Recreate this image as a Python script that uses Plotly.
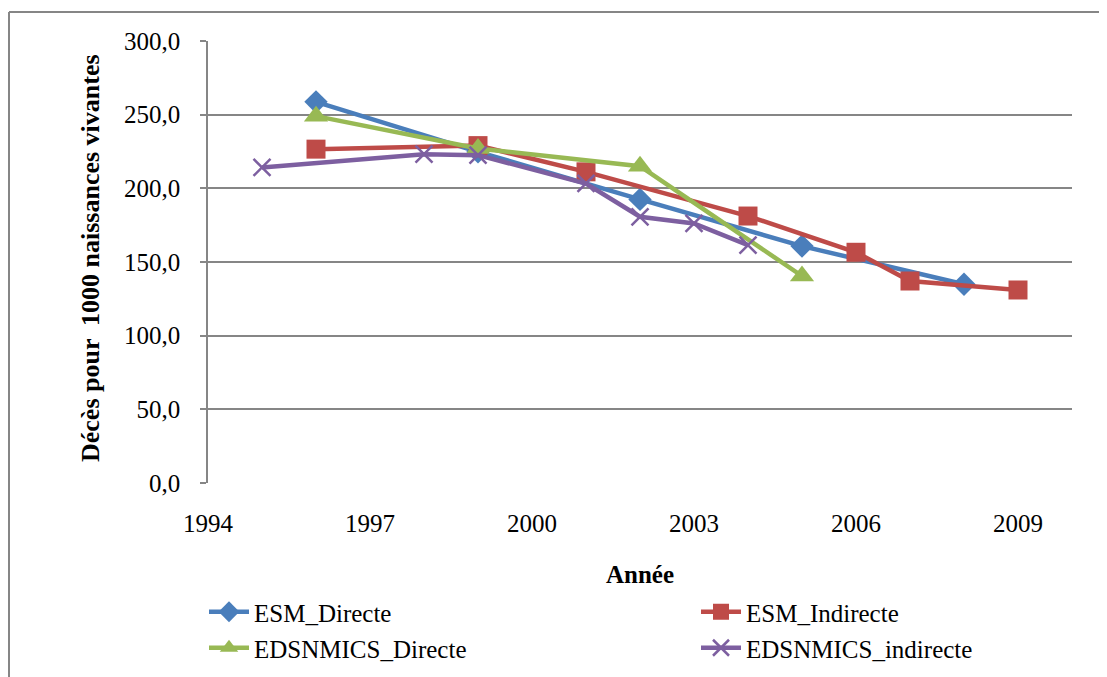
import plotly.graph_objects as go

# ---- data ----
esm_dir_years = [1996, 1999, 2002, 2005, 2008]
esm_dir_vals = [258.7, 224.8, 192.5, 160.8, 134.9]

esm_ind_years = [1996, 1999, 2001, 2004, 2006, 2007, 2009]
esm_ind_vals = [226.6, 229.0, 211.2, 181.2, 156.6, 137.1, 131.0]

eds_dir_years = [1996, 1999, 2002, 2005]
eds_dir_vals = [249.0, 227.0, 215.0, 140.5]

eds_ind_years = [1995, 1998, 1999, 2001, 2002, 2003, 2004]
eds_ind_vals = [214.2, 223.2, 222.5, 203.3, 180.7, 176.2, 161.5]

x_ticks = [1994, 1997, 2000, 2003, 2006, 2009]
y_ticks = [0, 50, 100, 150, 200, 250, 300]

# ---- layout geometry (reference screen pixels; page body adds 8px offset) ----
OFF = 8
W, H = 1107 - OFF, 677 - OFF
L, R, T, B = 208 - OFF, 1072 - OFF, 41 - OFF, 483 - OFF
pw, ph = R - L, B - T


def px(x):
    return (x - OFF - L) / pw


def py(y):
    return (B - (y - OFF)) / ph


def cy(y):
    return 1 - (y - OFF) / H


def cx(x):
    return (x - OFF) / W


FONT = "Liberation Serif, Times New Roman, serif"
BLUE, RED, GREEN, PURPLE = "#4A7EBB", "#BE4B48", "#98B954", "#7D5FA0"
GRID = "#868686"

fig = go.Figure()
fig.add_trace(go.Scatter(x=esm_dir_years, y=esm_dir_vals, name="ESM_Directe", mode="lines+markers",
                         line=dict(color=BLUE, width=4.5), showlegend=True,
                         marker=dict(symbol="diamond", size=18, color=BLUE), legend="legend"))
fig.add_trace(go.Scatter(x=esm_ind_years, y=esm_ind_vals, name="ESM_Indirecte", mode="lines+markers",
                         line=dict(color=RED, width=4.5), showlegend=True,
                         marker=dict(symbol="square", size=19, color=RED), legend="legend2"))
fig.add_trace(go.Scatter(x=eds_dir_years, y=eds_dir_vals, name="EDSNMICS_Directe", mode="lines+markers",
                         line=dict(color=GREEN, width=4.5), showlegend=True,
                         marker=dict(symbol="triangle-up", size=21, color=GREEN), legend="legend3"))
fig.add_trace(go.Scatter(x=eds_ind_years, y=eds_ind_vals, name="EDSNMICS_indirecte", mode="lines+markers",
                         line=dict(color=PURPLE, width=4.5), showlegend=True,
                         marker=dict(symbol="x-thin", size=17, color=PURPLE,
                                     line=dict(color=PURPLE, width=2.5)), legend="legend4"))


def leg(x_text, y_center):
    return dict(orientation="h", xref="container", yref="container",
                x=cx(x_text - 50), y=cy(y_center), xanchor="left", yanchor="middle",
                font=dict(family=FONT, size=25, color="black"), visible=True,
                bgcolor="rgba(0,0,0,0)", itemwidth=40)


fig.update_layout(
    width=W, height=H,
    showlegend=True,
    margin=dict(l=L, r=W - R, t=T, b=H - B, pad=0, autoexpand=False),
    paper_bgcolor="white", plot_bgcolor="white",
    separators=", ",
    font=dict(family=FONT, size=25, color="black"),
    legend=leg(254, 612),
    legend2=leg(746, 612),
    legend3=leg(254, 648),
    legend4=leg(746, 648),
    xaxis=dict(range=[1994, 2010], tickvals=x_ticks, ticktext=[str(v) for v in x_ticks],
               showgrid=False, zeroline=False, showline=False,
               ticks="", ticklabelstandoff=23,
               tickfont=dict(family=FONT, size=25, color="black")),
    yaxis=dict(range=[0, 300], tickvals=y_ticks, tickformat=".1f",
               showgrid=True, gridcolor=GRID, gridwidth=1.5,
               zeroline=False, showline=True, linecolor=GRID, linewidth=1.5,
               ticks="outside", ticklen=6, tickcolor=GRID, tickwidth=1.5,
               ticklabelstandoff=15,
               tickfont=dict(family=FONT, size=25, color="black")),
    annotations=[
        dict(text="<b>Décès pour  1000 naissances vivantes</b>", x=px(90), y=py(258),
             xref="paper", yref="paper", textangle=-90, showarrow=False,
             xanchor="center", yanchor="middle", font=dict(family=FONT, size=26, color="black")),
        dict(text="<b>Année</b>", x=px(640), y=py(574), xref="paper", yref="paper",
             showarrow=False, xanchor="center", yanchor="middle",
             font=dict(family=FONT, size=25, color="black")),
    ],
    shapes=[
        dict(type="line", xref="paper", yref="paper", x0=px(9), x1=px(1120), y0=py(12), y1=py(12),
             line=dict(color=GRID, width=2)),
        dict(type="line", xref="paper", yref="paper", x0=px(9), x1=px(9), y0=py(12), y1=py(700),
             line=dict(color=GRID, width=2)),
    ],
)

fig.write_html("out.html")
